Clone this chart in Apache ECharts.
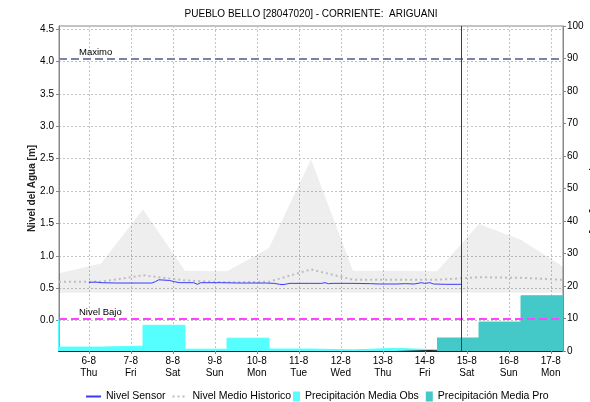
<!DOCTYPE html>
<html>
<head>
<meta charset="utf-8">
<script src="https://cdn.jsdelivr.net/npm/echarts@6/dist/echarts.min.js"></script>
<style>
  html, body { margin: 0; padding: 0; background: #fff; }
  #chart { width: 590px; height: 402px; }
</style>
</head>
<body>
<div id="chart"></div>
<script>
// Time is measured in hours from 5-8 00:00; the window runs 5-8 07:00 .. 17-8 07:00.
const dayTicks = [24, 48, 72, 96, 120, 144, 168, 192, 216, 240, 264, 288];
const dayLabels = ['6-8', '7-8', '8-8', '9-8', '10-8', '11-8', '12-8', '13-8', '14-8', '15-8', '16-8', '17-8'];
const weekdayLabels = ['Thu', 'Fri', 'Sat', 'Sun', 'Mon', 'Tue', 'Wed', 'Thu', 'Fri', 'Sat', 'Sun', 'Mon'];
const levelTicks = [0, 0.5, 1, 1.5, 2, 2.5, 3, 3.5, 4, 4.5];

// Historic statistics, one value per day at 07:00
const dailyHours = [7, 31, 55, 79, 103, 127, 151, 175, 199, 223, 247, 271, 295];
const histMax  = [0.73, 0.88, 1.72, 0.77, 0.76, 1.12, 2.49, 0.77, 0.77, 0.76, 1.49, 1.25, 0.83];
const histMin  = [0.43, 0.43, 0.43, 0.43, 0.43, 0.43, 0.43, 0.43, 0.43, 0.43, 0.43, 0.43, 0.43];
const histMean = [0.60, 0.60, 0.70, 0.62, 0.59, 0.60, 0.79, 0.63, 0.63, 0.63, 0.67, 0.66, 0.63];

// Water level from the sensor
const sensorHours  = [24, 28, 31, 40, 52, 60, 62, 64, 65, 67, 70, 73, 76, 84, 86, 88, 100, 110, 111, 112,
                      125, 130, 133, 135, 137, 139, 150, 157, 158, 159, 160, 161, 163, 175, 185, 190, 200,
                      205, 210, 214, 216, 219, 221, 228, 237];
const sensorLevels = [0.59, 0.595, 0.585, 0.58, 0.58, 0.58, 0.60, 0.63, 0.64, 0.625, 0.62, 0.60, 0.585, 0.585,
                      0.56, 0.585, 0.585, 0.58, 0.57, 0.58, 0.58, 0.575, 0.56, 0.555, 0.565, 0.575, 0.575,
                      0.575, 0.56, 0.585, 0.60, 0.57, 0.575, 0.575, 0.57, 0.565, 0.565, 0.57, 0.565, 0.585,
                      0.575, 0.585, 0.565, 0.56, 0.56];

// Daily precipitation (mm), each value covers 07:00 to 07:00 of the next day
const obsDayStart = [-17, 7, 31, 55, 79, 103, 127, 151, 175, 199];
const obsPrecip   = [9.8, 1.2, 1.5, 7.9, 0.55, 3.95, 0.6, 0.35, 0.8, 0.4];
const proDayStart = [223, 247, 271];
const proPrecip   = [4.0, 8.9, 17.0];

const maxLevel = 4.05;
const lowLevel = 0.03;
const nowHour = 237;

const pairs = (xs, ys) => xs.map((x, i) => [x, ys[i]]);
// step blocks: add the closing point one day after the last start
const stepBlocks = (starts, vals) => pairs(starts, vals).concat([[starts[starts.length - 1] + 24, vals[vals.length - 1]]]);

const FONT = '"Liberation Sans", Arial, sans-serif';
const chart = echarts.init(document.getElementById('chart'));

chart.setOption({
  animation: false,
  backgroundColor: '#fff',
  textStyle: { fontFamily: FONT },
  title: {
    text: 'PUEBLO BELLO [28047020] - CORRIENTE:  ARIGUANI',
    left: 311, top: 9, padding: 0, textAlign: 'center',
    textStyle: { fontSize: 10, fontWeight: 'normal', color: '#000', fontFamily: FONT }
  },
  grid: {
    left: 59, right: 27, top: 26, bottom: 51, containLabel: false, outerBoundsMode: 'none',
    show: true, borderColor: '#888', borderWidth: 1, backgroundColor: 'transparent'
  },
  legend: [
    {
      left: 80, top: 386, itemWidth: 15, itemHeight: 10, itemGap: 6, selectedMode: false,
      itemStyle: { opacity: 0 },
      data: ['Nivel Sensor', 'Nivel Medio Historico'],
      textStyle: { fontSize: 10.5, color: '#000', fontFamily: FONT }
    },
    {
      left: 288, top: 386, itemWidth: 7, itemHeight: 10, itemGap: 7, selectedMode: false,
      data: [{ name: 'Precipitación Media Obs', icon: 'rect' }, { name: 'Precipitación Media Pro', icon: 'rect' }],
      textStyle: { fontSize: 10.5, color: '#000', fontFamily: FONT }
    }
  ],
  xAxis: {
    type: 'value', min: 7, max: 295,
    axisLine: { show: true, onZero: false, lineStyle: { color: '#222', width: 2, type: [1, 1] } },
    axisTick: { show: true, customValues: dayTicks, length: 3, lineStyle: { color: '#888' } },
    axisLabel: {
      customValues: dayTicks, color: '#000', fontSize: 10, lineHeight: 12, margin: 4,
      formatter: v => { const i = dayTicks.indexOf(v); return dayLabels[i] + '\n' + weekdayLabels[i]; }
    },
    splitLine: { show: true, lineStyle: { color: '#c4c4c4', type: [2, 2] } }
  },
  yAxis: [
    {
      type: 'value', min: -0.47, max: 4.55, position: 'left',
      name: 'Nivel del Agua [m]', nameLocation: 'middle', nameGap: 22, nameMoveOverlap: false,
      nameTextStyle: { fontSize: 10, fontWeight: 'bold', color: '#222', fontFamily: FONT },
      axisLine: { show: true, onZero: false, lineStyle: { color: '#888' } },
      axisTick: { show: true, customValues: levelTicks, length: 3, lineStyle: { color: '#888' } },
      axisLabel: { customValues: levelTicks, color: '#000', fontSize: 10, margin: 5, formatter: v => v.toFixed(1) },
      splitLine: { show: true, lineStyle: { color: '#c4c4c4', type: [2, 2] } }
    },
    {
      type: 'value', min: 0, max: 100, interval: 10, position: 'right',
      name: 'Precipitación [mm]', nameLocation: 'middle', nameGap: 26, nameRotate: -90, nameMoveOverlap: false,
      nameTextStyle: { fontSize: 10, fontWeight: 'bold', color: '#222', fontFamily: FONT },
      axisLine: { show: true, onZero: false, lineStyle: { color: '#888' } },
      axisTick: { show: true, length: 3, lineStyle: { color: '#888' } },
      axisLabel: { color: '#000', fontSize: 10, margin: 4 },
      splitLine: { show: false }
    }
  ],
  series: [
    {
      // band between historic minimum and maximum
      name: 'band', type: 'custom', silent: true, z: 1, clip: true,
      data: [[dailyHours[0], histMin[0]]],
      renderItem: (params, api) => {
        const upper = dailyHours.map((h, i) => api.coord([h, histMax[i]]));
        const lower = dailyHours.map((h, i) => api.coord([h, histMin[i]])).reverse();
        return { type: 'polygon', shape: { points: upper.concat(lower) }, style: { fill: 'rgba(0,0,0,0.065)' } };
      }
    },
    {
      name: 'Precipitación Media Obs', type: 'line', yAxisIndex: 1, step: 'end', symbol: 'none', z: 2,
      color: '#55ffff', lineStyle: { width: 1, color: '#55ffff' },
      areaStyle: { color: '#55ffff', opacity: 1 },
      data: stepBlocks(obsDayStart, obsPrecip)
    },
    {
      name: 'Precipitación Media Pro', type: 'line', yAxisIndex: 1, step: 'end', symbol: 'none', z: 2,
      color: '#44c8c8', lineStyle: { width: 1, color: '#44c8c8' },
      areaStyle: { color: '#44c8c8', opacity: 1 },
      data: stepBlocks(proDayStart, proPrecip)
    },
    {
      name: 'Nivel Medio Historico', type: 'line', symbol: 'none', z: 3,
      color: '#bdbdbd', lineStyle: { color: '#bdbdbd', width: 2, type: [2, 3] },
      data: pairs(dailyHours, histMean)
    },
    {
      name: 'Nivel Sensor', type: 'line', symbol: 'none', z: 4,
      color: '#3a3aff', lineStyle: { color: '#3a3aff', width: 1 },
      data: pairs(sensorHours, sensorLevels),
      markLine: {
        silent: true, symbol: ['none', 'none'], animation: false,
        data: [
          {
            yAxis: maxLevel,
            lineStyle: { color: '#7a84aa', width: 2, type: [8, 4] },
            label: { show: true, formatter: 'Maximo', position: 'insideStartTop', distance: [20, 1],
                     color: '#000', fontSize: 9.5, fontFamily: FONT }
          },
          {
            yAxis: lowLevel,
            lineStyle: { color: '#ff44ff', width: 2, type: [8, 4] },
            label: { show: true, formatter: 'Nivel Bajo', position: 'insideStartTop', distance: [20, 1],
                     color: '#000', fontSize: 9.5, fontFamily: FONT }
          },
          {
            xAxis: nowHour,
            lineStyle: { color: '#cc0000', width: 1, type: 'solid' },
            label: { show: false }
          }
        ]
      }
    }
  ]
});
</script>
</body>
</html>
